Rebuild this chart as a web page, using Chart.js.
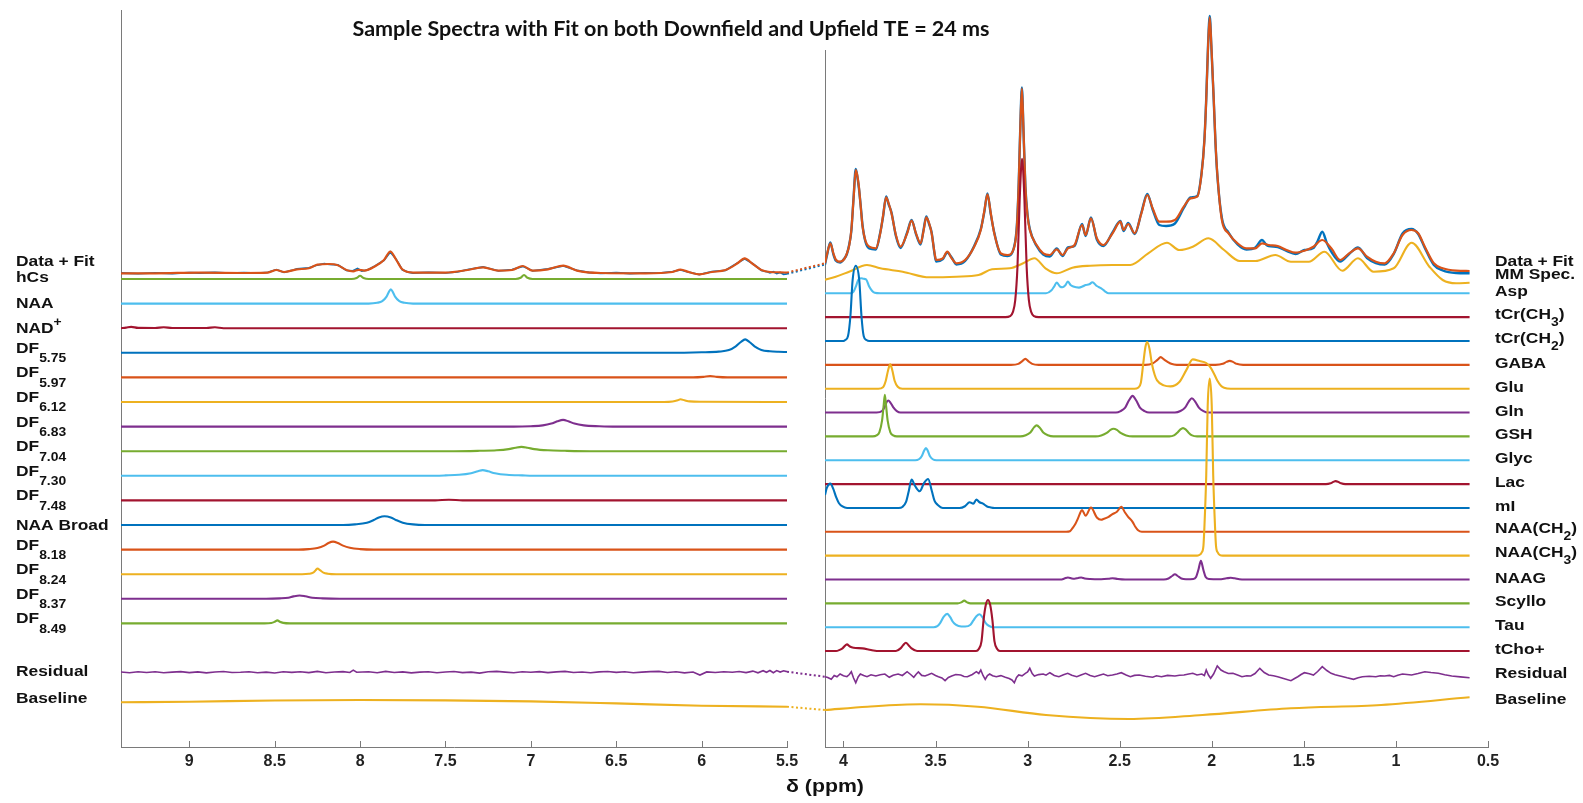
<!DOCTYPE html>
<html>
<head>
<meta charset="utf-8">
<title>Sample Spectra with Fit</title>
<script src="https://cdn.jsdelivr.net/npm/chart.js@4.4.1/dist/chart.umd.min.js"></script>
<style>
  html, body { margin: 0; padding: 0; background: #fff; }
  canvas { display: block; }
</style>
</head>
<body>
<canvas id="spectraChart" width="1583" height="803"></canvas>
<script>
// tick values of the two ppm windows
const downfieldTicks = [9, 8.5, 8, 7.5, 7, 6.5, 6, 5.5];
const upfieldTicks = [4, 3.5, 3, 2.5, 2, 1.5, 1, 0.5];

// names of the fitted components, top to bottom
const downfieldNames = ['hCs', 'NAA', 'NAD^{+}', 'DF_{5.75}', 'DF_{5.97}', 'DF_{6.12}', 'DF_{6.83}',
  'DF_{7.04}', 'DF_{7.30}', 'DF_{7.48}', 'NAA Broad', 'DF_{8.18}', 'DF_{8.24}', 'DF_{8.37}', 'DF_{8.49}'];
const upfieldNames = ['Asp', 'tCr(CH_{3})', 'tCr(CH_{2})', 'GABA', 'Glu', 'Gln', 'GSH', 'Glyc', 'Lac',
  'mI', 'NAA(CH_{2})', 'NAA(CH_{3})', 'NAAG', 'Scyllo', 'Tau', 'tCho+'];

// ---- downfield (9.4 - 5.5 ppm): [ppm, intensity] ----
const fitDown = [[9.40,0],[9.20,0],[8.94,0.7],[8.68,0.3],[8.54,0.7],[8.49,3.3],[8.445,1.3],[8.37,4],[8.30,5],
  [8.25,8.7],[8.18,9.3],[8.13,8],[8.08,3.3],[8.04,2],[8.01,3.5],[7.975,2.7],[7.91,7.3],[7.86,13.3],[7.823,21.7],
  [7.79,14],[7.753,4],[7.69,0.7],[7.50,0.7],[7.37,3.3],[7.28,6],[7.19,2.7],[7.11,3.3],[7.047,7.3],[6.99,2.7],
  [6.90,4],[6.81,7.7],[6.73,2.7],[6.59,0.3],[6.33,0],[6.17,1.3],[6.124,3.7],[6.07,1],[6.014,-1],[5.94,1.3],
  [5.86,3.3],[5.79,10],[5.748,15],[5.70,9.3],[5.65,3.3],[5.60,1.3],[5.54,1],[5.5,0.7]];
const dataDown = [[9.40,0.3],[9.30,-0.3],[9.20,0.5],[9.10,-0.2],[9.00,0.6],[8.94,0.3],[8.85,0.9],[8.76,0.2],
  [8.68,0.6],[8.60,0.1],[8.54,0.9],[8.49,3.6],[8.445,1.0],[8.40,2.8],[8.37,4.3],[8.30,5.5],[8.25,8.3],[8.21,9.6],
  [8.18,9.0],[8.13,8.4],[8.08,3.0],[8.045,2.3],[8.015,4.8],[7.99,2.2],[7.955,3.5],[7.91,7.6],[7.86,13.0],
  [7.823,21.3],[7.79,14.4],[7.753,3.6],[7.72,1.2],[7.69,0.3],[7.60,1.0],[7.50,0.4],[7.43,1.5],[7.37,3.6],
  [7.28,6.3],[7.19,2.4],[7.11,3.6],[7.047,7.0],[6.99,2.4],[6.90,4.3],[6.81,7.4],[6.73,2.9],[6.66,0.8],[6.59,0.0],
  [6.50,0.6],[6.42,-0.2],[6.33,0.4],[6.25,0.1],[6.17,1.6],[6.124,3.4],[6.07,0.8],[6.014,-1.3],[5.94,1.6],
  [5.86,3.0],[5.79,10.3],[5.748,14.6],[5.70,9.6],[5.65,3.0],[5.62,1.8],[5.60,0.4],[5.58,1.6],[5.56,-0.3],
  [5.54,0.9],[5.52,-1.0],[5.5,-0.5]];

const hCs = [[9.4,0],[8.05,0],[8.02,1],[8.0,3.3],[7.98,1],[7.95,0],[7.09,0],[7.06,1.2],[7.04,4],[7.02,1.2],[6.99,0],[5.5,0]];
const naaDown = [[9.4,0],[7.95,0],[7.9,0.8],[7.87,2.5],[7.845,7],[7.832,11.5],[7.82,14.3],[7.808,11.5],
  [7.795,7],[7.77,2.5],[7.74,0.8],[7.69,0],[5.5,0]];
const nad = [[9.4,0],[9.37,0.6],[9.34,1.3],[9.3,0.3],[9.2,0.2],[9.15,1],[9.1,0.2],[8.9,0.2],[8.85,0.9],[8.8,0],[5.5,0]];
const df575 = [[9.4,0],[6.2,0],[6.0,0.5],[5.9,1.2],[5.84,2.7],[5.80,6.5],[5.77,10.8],[5.745,13.4],[5.72,10.8],
  [5.69,6.5],[5.65,2.9],[5.60,1.5],[5.55,1],[5.5,0.8]];
const df597 = [[9.4,0],[6.05,0],[5.99,0.5],[5.95,1.3],[5.91,0.5],[5.85,0],[5.5,0]];
const df612 = [[9.4,0],[6.22,0],[6.17,0.5],[6.14,1.7],[6.124,2.7],[6.1,1.7],[6.07,0.6],[6.0,0.2],[5.5,0]];
const df683 = [[9.4,0],[7.1,0],[7.0,0.4],[6.93,1.2],[6.88,3],[6.845,5.3],[6.811,6.7],[6.78,5.3],[6.745,3],
  [6.69,1.2],[6.6,0.4],[6.5,0],[5.5,0]];
const df704 = [[9.4,0],[7.45,0],[7.3,0.4],[7.2,0.9],[7.13,2.1],[7.09,3.5],[7.055,4.3],[7.02,3.5],[6.98,2.1],
  [6.9,0.9],[6.8,0.4],[6.65,0],[5.5,0]];
const df730 = [[9.4,0],[7.6,0],[7.5,0.4],[7.42,1],[7.35,2.6],[7.31,4.5],[7.282,5.7],[7.25,4.5],[7.21,2.6],
  [7.14,1],[7.05,0.4],[6.95,0],[5.5,0]];
const df748 = [[9.4,0],[7.56,0],[7.48,0.7],[7.4,0],[5.5,0]];
const naaBroad = [[9.4,0],[8.1,0],[8.03,0.6],[7.96,2.3],[7.92,5],[7.89,7.5],[7.857,8.7],[7.82,7.5],[7.79,5],
  [7.75,2.3],[7.69,0.6],[7.62,0],[5.5,0]];
const df818 = [[9.4,0],[8.36,0],[8.3,0.5],[8.25,1.6],[8.21,4],[8.185,6.6],[8.158,8],[8.13,6.6],[8.1,4],
  [8.06,1.8],[8.0,0.5],[7.92,0],[5.5,0]];
const df824 = [[9.4,0],[8.34,0],[8.3,0.4],[8.275,1.5],[8.26,4],[8.249,5.7],[8.235,4],[8.215,1.6],[8.19,0.5],[8.14,0],[5.5,0]];
const df837 = [[9.4,0],[8.55,0],[8.47,0.4],[8.42,1.1],[8.39,2.4],[8.354,3.3],[8.32,2.5],[8.28,1.1],[8.22,0.4],[8.12,0],[5.5,0]];
const df849 = [[9.4,0],[8.56,0],[8.52,0.4],[8.5,1.6],[8.484,3],[8.47,1.6],[8.45,0.5],[8.41,0],[5.5,0]];

const residualDown = [[9.40,0.3],[9.35,-0.4],[9.30,0.5],[9.25,-0.2],[9.20,0.6],[9.15,-0.5],[9.10,0.2],[9.05,0.7],
  [9.00,-0.3],[8.95,0.4],[8.90,-0.6],[8.85,0.3],[8.80,0.8],[8.75,-0.2],[8.70,0.1],[8.65,0.6],[8.60,-0.4],
  [8.55,0.2],[8.50,-0.7],[8.45,0.5],[8.40,-0.1],[8.35,0.6],[8.30,-0.3],[8.25,0.9],[8.20,-0.5],[8.15,0.3],
  [8.10,0.7],[8.06,-0.2],[8.04,2.2],[8.02,0.1],[7.95,0.5],[7.90,-0.4],[7.85,0.9],[7.80,-0.2],[7.75,0.4],
  [7.70,-0.6],[7.65,0.2],[7.60,0.5],[7.55,-0.4],[7.50,0.3],[7.45,0.8],[7.40,-0.3],[7.35,0.2],[7.30,-0.8],
  [7.25,0.5],[7.20,0.9],[7.15,0.2],[7.10,-0.4],[7.05,0.6],[7.00,0.1],[6.95,0.7],[6.90,-0.3],[6.85,0.4],
  [6.80,0.9],[6.75,-0.2],[6.70,0.3],[6.65,-0.5],[6.60,0.4],[6.55,0.8],[6.50,-0.1],[6.45,0.5],[6.40,-0.4],
  [6.35,0.2],[6.30,0.7],[6.25,0.9],[6.20,-0.2],[6.15,0.5],[6.10,-0.6],[6.05,0.3],[6.01,-2.7],[5.97,0.4],
  [5.92,-0.2],[5.87,0.6],[5.82,0.1],[5.78,0.8],[5.74,-0.3],[5.70,1.2],[5.67,-0.5],[5.64,1.6],[5.62,0],
  [5.60,1.8],[5.58,-0.4],[5.56,1.7],[5.54,0.2],[5.52,1.5],[5.5,0.6]];
const baselineDown = [[9.4,44.7],[9.0,45.3],[8.5,46.5],[8.0,47],[7.5,46.6],[7.0,45.6],[6.5,43.6],[6.0,41.3],[5.5,40.3]];

// ---- upfield (4.1 - 0.6 ppm): [ppm, intensity] ----
const fitUp = [[4.1,7.7],[4.09,16],[4.071,27.7],[4.055,18],[4.042,11.7],[4.018,9.3],[3.995,12],[3.981,17.7],
  [3.968,26],[3.957,41],[3.945,72],[3.933,101],[3.925,96],[3.916,84.3],[3.905,62],[3.896,44.3],[3.88,30],
  [3.86,24.3],[3.824,22.7],[3.8,37.7],[3.785,55],[3.768,73.7],[3.755,68],[3.739,57.7],[3.715,36],[3.69,24.3],
  [3.654,37.7],[3.63,50.3],[3.606,37.7],[3.581,27.7],[3.565,40],[3.55,53.7],[3.535,48],[3.521,37.7],[3.505,18],
  [3.497,11],[3.46,12.7],[3.436,19.3],[3.412,12.7],[3.387,7.7],[3.339,11],[3.29,24.3],[3.254,41],[3.235,60],
  [3.218,76.7],[3.2,58],[3.181,37.7],[3.145,17.7],[3.109,16],[3.072,24.3],[3.058,45],[3.048,87.7],[3.04,140],
  [3.031,182.7],[3.022,140],[3.012,84.3],[3.0,55],[2.988,41],[2.951,26],[2.915,17.7],[2.879,16],[2.842,21.7],
  [2.81,16],[2.781,22.7],[2.745,26],[2.704,46],[2.685,36],[2.656,52.7],[2.624,32.7],[2.588,26],[2.539,37.7],
  [2.496,49.3],[2.479,41],[2.454,47],[2.418,37.7],[2.382,57.7],[2.35,76],[2.321,62.7],[2.285,49.3],[2.248,49.3],
  [2.2,51],[2.152,64.3],[2.115,72.7],[2.079,74.3],[2.055,97.7],[2.04,130],[2.03,171],[2.02,225],[2.011,253.7],
  [2.002,225],[1.989,171],[1.98,130],[1.97,97.7],[1.945,51],[1.909,37.7],[1.86,27.7],[1.812,22.7],[1.763,22.7],
  [1.727,27.7],[1.691,26],[1.642,25],[1.594,21],[1.545,18.3],[1.497,20.3],[1.448,24.3],[1.4,31],[1.351,22.7],
  [1.303,11],[1.254,17.7],[1.206,22.7],[1.157,14.3],[1.109,9.3],[1.061,7.7],[1.012,17.7],[0.964,36],[0.915,41],
  [0.879,37.7],[0.843,24.3],[0.794,7.7],[0.746,2.7],[0.673,0.3],[0.6,0]];
const dataUp = [[4.1,6.5],[4.09,15],[4.071,28.5],[4.055,17],[4.042,10.5],[4.018,8.5],[3.995,12.5],[3.981,17],
  [3.968,27],[3.957,40],[3.945,73],[3.933,102],[3.925,95],[3.916,83],[3.905,63],[3.896,45.5],[3.88,29],
  [3.86,22.5],[3.824,21.5],[3.8,38.5],[3.785,54],[3.768,74.5],[3.755,67],[3.739,58.5],[3.715,35],[3.69,23],
  [3.654,38.5],[3.63,51],[3.606,37],[3.581,26.5],[3.565,41],[3.55,54.5],[3.535,47],[3.521,38.5],[3.505,17],
  [3.497,9.5],[3.46,12],[3.436,18.5],[3.412,13.5],[3.387,6.5],[3.339,10],[3.29,25],[3.254,42],[3.235,59],
  [3.218,77.5],[3.2,57],[3.181,38.5],[3.145,16.5],[3.109,15],[3.072,25],[3.058,46],[3.048,88.5],[3.04,141],
  [3.031,183.5],[3.022,139],[3.012,85],[3.0,56],[2.988,42],[2.951,25],[2.915,16.5],[2.879,14.5],[2.842,22.5],
  [2.81,15],[2.781,23.5],[2.745,25],[2.704,47],[2.685,35],[2.656,53.5],[2.624,31.5],[2.588,25],[2.539,38.5],
  [2.496,50],[2.479,40],[2.454,48],[2.418,37],[2.382,58.5],[2.35,77],[2.321,61.5],[2.285,46],[2.248,45],
  [2.2,47.5],[2.152,63],[2.115,73.5],[2.079,75],[2.055,98.5],[2.04,131],[2.03,172],[2.02,226],[2.011,255],
  [2.002,224],[1.989,170],[1.98,129],[1.97,96.5],[1.945,53],[1.909,38.5],[1.86,26.5],[1.812,21.5],[1.763,23.5],
  [1.727,31],[1.705,26.5],[1.691,25],[1.642,24],[1.594,20],[1.545,17],[1.497,21],[1.448,23],[1.425,30],
  [1.4,39.3],[1.375,28],[1.351,19.3],[1.303,9.5],[1.254,17],[1.206,23.5],[1.157,13],[1.109,8],[1.061,6.5],
  [1.012,17],[0.964,37.5],[0.915,42],[0.879,37],[0.843,23],[0.794,6],[0.746,0.5],[0.673,-2],[0.6,-2.3]];
const mmSpec = [[4.107,3],[4.042,6.3],[3.969,11.3],[3.872,18],[3.8,14.7],[3.678,11.3],[3.533,5.7],[3.387,6.3],
  [3.266,8],[3.193,13.7],[3.097,14.7],[3.024,19.7],[2.963,24.7],[2.903,14.7],[2.842,9.7],[2.757,15.3],[2.66,17.3],
  [2.539,18],[2.442,18],[2.345,29.7],[2.243,40.3],[2.176,33],[2.103,36.3],[2.018,44.7],[1.933,33],[1.848,22],
  [1.763,22],[1.655,28],[1.57,21.3],[1.473,21.3],[1.388,31.3],[1.291,12.3],[1.206,24.7],[1.121,11.3],
  [1.012,14.7],[0.915,40.3],[0.818,16.3],[0.746,3],[0.673,-0.3],[0.6,0.3]];

const asp = [[4.1,0],[3.96,0],[3.945,1.7],[3.93,8],[3.92,13.3],[3.904,15],[3.89,14.5],[3.877,14],[3.86,6.7],
  [3.845,2.5],[3.83,0.5],[3.8,0],[2.9,0],[2.87,3],[2.855,7],[2.842,10.7],[2.825,7],[2.811,6],[2.795,8],
  [2.782,11.7],[2.765,8],[2.752,6.7],[2.721,5.7],[2.7,7],[2.685,8.3],[2.665,9],[2.648,11],[2.624,7.3],[2.6,5],
  [2.58,2],[2.56,0],[0.6,0]];
const tCrCH3 = [[4.1,0],[3.12,0],[3.095,1],[3.08,5],[3.067,17],[3.055,50],[3.043,117],[3.03,158.4],[3.017,117],
  [3.005,50],[2.993,17],[2.98,5],[2.965,1],[2.94,0],[0.6,0]];
const tCrCH2 = [[4.1,0],[4.0,0],[3.99,1],[3.975,5],[3.962,25],[3.95,61],[3.933,75.3],[3.914,61],[3.902,25],
  [3.89,5],[3.875,1],[3.86,0],[0.6,0]];
const gaba = [[4.1,0],[3.09,0],[3.05,1],[3.03,3.5],[3.012,6],[2.995,3.5],[2.975,1],[2.94,0],[2.36,0],[2.32,1.5],
  [2.295,5],[2.277,7.7],[2.26,5.5],[2.24,3],[2.22,1],[2.19,0],[1.98,0],[1.94,1],[1.92,3],[1.902,4],[1.885,3],
  [1.865,1],[1.83,0],[0.6,0]];
const glu = [[4.1,0],[3.81,0],[3.785,1.5],[3.77,8],[3.758,18],[3.746,24.3],[3.734,18],[3.722,8],[3.705,2],
  [3.68,0],[2.42,0],[2.4,1],[2.385,6],[2.372,25],[2.36,42],[2.35,46.7],[2.338,40],[2.325,25],[2.31,14],
  [2.297,8.3],[2.26,3.3],[2.224,2.3],[2.176,6.7],[2.139,18.3],[2.103,29.3],[2.066,27.7],[2.03,25.7],[2.006,21],
  [1.985,14],[1.97,8.3],[1.95,3],[1.933,1],[1.897,0],[0.6,0]];
const gln = [[4.1,0],[3.82,0],[3.79,1.5],[3.775,6],[3.765,10.5],[3.756,12],[3.745,10],[3.73,5.5],[3.71,1.5],
  [3.69,0],[2.52,0],[2.495,1.5],[2.47,5],[2.45,12],[2.43,16.7],[2.41,12],[2.39,5],[2.365,1.5],[2.34,0],[2.2,0],
  [2.17,1.5],[2.145,5],[2.125,11],[2.108,14.3],[2.09,11],[2.07,5],[2.045,1.5],[2.02,0],[0.6,0]];
const gsh = [[4.1,0],[3.84,0],[3.82,1],[3.805,4],[3.79,16],[3.782,30],[3.775,41.7],[3.768,30],[3.76,16],
  [3.745,4],[3.73,1],[3.71,0],[3.04,0],[3.01,1.2],[2.985,4],[2.965,9],[2.951,11],[2.935,9],[2.915,4],[2.89,1.2],
  [2.86,0],[2.63,0],[2.6,1],[2.57,3.5],[2.55,6.5],[2.534,7.7],[2.515,6.5],[2.495,3.5],[2.465,1],[2.43,0],
  [2.23,0],[2.205,1],[2.185,4],[2.17,7],[2.156,8.3],[2.142,7],[2.127,4],[2.107,1],[2.08,0],[0.6,0]];
const glyc = [[4.1,0],[3.61,0],[3.59,1],[3.575,4],[3.562,9.5],[3.552,12.3],[3.542,9.5],[3.53,4],[3.515,1],
  [3.495,0],[0.6,0]];
const lac = [[4.1,0],[1.38,0],[1.355,0.8],[1.34,2.2],[1.327,3],[1.313,2.2],[1.298,0.8],[1.275,0],[0.6,0]];
const mI = [[4.1,13],[4.09,20],[4.071,24.3],[4.055,19],[4.04,11],[4.025,5],[4.005,1.5],[3.98,0],[3.7,0],
  [3.68,1],[3.66,6],[3.645,17],[3.63,28.3],[3.61,21.7],[3.586,16.7],[3.562,25],[3.54,29],[3.52,17],[3.505,7],
  [3.489,3.3],[3.46,0],[3.37,0],[3.34,1.7],[3.315,5.7],[3.295,4.3],[3.278,8.3],[3.261,5.7],[3.242,4.3],
  [3.22,1.5],[3.2,0.5],[3.18,0],[0.6,0]];
const naaCH2 = [[4.1,0],[2.79,0],[2.77,0.5],[2.755,4],[2.74,8],[2.728,12.7],[2.704,21.7],[2.685,16],[2.656,24.3],
  [2.624,14.3],[2.6,12],[2.588,12.7],[2.56,15],[2.539,17.7],[2.515,20],[2.491,25],[2.471,19.3],[2.454,15],
  [2.43,10],[2.415,5],[2.4,1.5],[2.38,0],[0.6,0]];
const naaCH3 = [[4.1,0],[2.08,0],[2.07,0.5],[2.055,3],[2.045,10],[2.04,28],[2.03,80],[2.022,150],[2.011,177],
  [2.0,150],[1.992,80],[1.982,28],[1.977,10],[1.967,3],[1.955,0.5],[1.94,0],[0.6,0]];
const naag = [[4.1,0],[2.82,0],[2.8,1],[2.781,2],[2.76,1],[2.745,0.7],[2.725,1.5],[2.709,2],[2.69,1],[2.66,0.5],
  [2.6,0.3],[2.56,0.8],[2.539,1.3],[2.51,0.5],[2.47,0],[2.26,0],[2.235,1],[2.215,3.5],[2.2,5.3],[2.185,3.5],
  [2.165,1],[2.14,0.3],[2.1,0.5],[2.085,2.5],[2.072,10],[2.059,18.7],[2.046,10],[2.033,2.5],[2.015,0.5],
  [1.96,0.3],[1.92,1.2],[1.897,1.7],[1.875,1.2],[1.85,0.3],[1.82,0],[0.6,0]];
const scyllo = [[4.1,0],[3.38,0],[3.36,1],[3.344,2.7],[3.328,1],[3.31,0],[0.6,0]];
const tau = [[4.1,0],[3.51,0],[3.49,1],[3.475,4],[3.455,10.5],[3.436,13.3],[3.42,10],[3.407,5.7],[3.39,2.5],
  [3.375,1.3],[3.339,0.7],[3.31,2.5],[3.295,6.5],[3.278,11],[3.261,13],[3.245,10],[3.232,5.5],[3.218,2.3],
  [3.2,0.5],[3.185,0],[0.6,0]];
const tCho = [[4.1,0],[4.04,0],[4.02,1.2],[4.005,2.7],[3.981,6.7],[3.965,4.5],[3.945,3.3],[3.896,2.7],[3.85,1],
  [3.8,0],[3.715,0],[3.69,2.7],[3.675,6],[3.661,8.3],[3.645,5.5],[3.63,2.7],[3.6,0],[3.28,0],[3.265,2],[3.25,10],
  [3.239,31],[3.227,46],[3.215,51],[3.203,46],[3.191,31],[3.18,10],[3.165,2],[3.15,0],[0.6,0]];

const residualUp = [[4.10,-0.7],[4.085,-1.5],[4.066,-3.3],[4.05,0.5],[4.035,-0.8],[4.018,2],[4.0,0.3],[3.981,-0.7],
  [3.968,1.5],[3.957,4.3],[3.945,-2],[3.933,-6.7],[3.92,-1],[3.908,2],[3.89,0.5],[3.872,-0.7],[3.85,1.2],[3.824,0],
  [3.80,1.3],[3.775,2],[3.762,0.2],[3.751,-1.3],[3.73,0.8],[3.703,2],[3.68,0.5],[3.654,4.3],[3.635,1.5],
  [3.618,-1.3],[3.605,1.8],[3.593,4],[3.575,0.6],[3.557,0],[3.54,1.2],[3.521,2.7],[3.5,0.5],[3.484,-0.7],
  [3.465,-2],[3.448,-4.7],[3.43,-1.5],[3.412,0],[3.39,1.5],[3.363,1],[3.345,-0.5],[3.327,-0.7],[3.30,1.5],
  [3.278,4.3],[3.265,2.5],[3.254,6],[3.242,0.5],[3.23,-3.3],[3.218,0.5],[3.206,2],[3.19,0.3],[3.17,-0.7],
  [3.145,0.4],[3.121,-1.3],[3.10,-2.5],[3.085,-4],[3.072,-6.7],[3.06,-1.5],[3.048,1],[3.03,0.2],[3.012,2.7],
  [3.0,4],[2.988,7.7],[2.975,2.5],[2.963,0],[2.94,1.4],[2.915,2],[2.90,0.8],[2.879,3.3],[2.855,0.5],[2.83,-0.7],
  [2.805,1.2],[2.782,2.7],[2.76,0.8],[2.733,-0.7],[2.71,1],[2.685,2.7],[2.66,0.6],[2.636,-0.7],[2.61,0.8],
  [2.588,2],[2.565,0.3],[2.539,1],[2.515,2],[2.491,3.3],[2.465,1],[2.442,-0.7],[2.42,0.6],[2.394,1],[2.36,-0.2],
  [2.321,-1.3],[2.30,0.2],[2.273,-0.7],[2.24,0.6],[2.20,0],[2.175,0.8],[2.151,1],[2.125,2],[2.103,2.7],[2.08,1],
  [2.054,2],[2.04,0.5],[2.03,6],[2.018,1],[2.006,-2.3],[1.99,2],[1.97,10],[1.95,6],[1.933,4.3],[1.91,2.5],
  [1.885,2.7],[1.86,1],[1.836,-0.7],[1.81,0.3],[1.788,0],[1.765,2.5],[1.739,7.7],[1.715,3.5],[1.691,1],
  [1.665,0.2],[1.642,-0.7],[1.61,-2.5],[1.57,-4.7],[1.55,-2.5],[1.533,-0.7],[1.515,1.5],[1.497,3.3],[1.47,2.2],
  [1.448,1],[1.425,4.5],[1.40,9.3],[1.375,5.5],[1.352,2.7],[1.33,1.2],[1.303,0],[1.265,-1.8],[1.23,-3.3],
  [1.205,-1.8],[1.182,-0.7],[1.145,-0.3],[1.109,-0.7],[1.085,0.3],[1.061,0],[1.035,0.6],[1.012,-0.7],[0.99,0.8],
  [0.964,2],[0.94,1.5],[0.915,1],[0.88,2.5],[0.843,4.3],[0.81,3.5],[0.77,2.7],[0.735,1.2],[0.697,0],
  [0.65,-0.9],[0.6,-1.7]];
const baselineUp = [[4.1,37],[3.87,40.3],[3.58,42.7],[3.27,40.3],[2.9,32],[2.45,28],[2.05,32],[1.57,38.7],
  [1.08,42],[0.6,49.7]];

const downfieldFits = [hCs, naaDown, nad, df575, df597, df612, df683, df704, df730, df748,
  naaBroad, df818, df824, df837, df849];
const upfieldFits = [asp, tCrCH3, tCrCH2, gaba, glu, gln, gsh, glyc, lac, mI, naaCH2, naaCH3,
  naag, scyllo, tau, tCho];

// MATLAB colour order
const palette = ['#0072BD', '#D95319', '#EDB120', '#7E2F8E', '#77AC30', '#4DBEEE', '#A2142F'];

// vertical stacking of the traces (y units = pixels above the ppm axis)
const DOWN_DATA = 473.7, DOWN_TOP = 468, DOWN_STEP = 24.6, DOWN_RES = 74.7;
const UP_DATA = 476, UP_MM = 464, UP_TOP = 453.7, UP_STEP = 23.85, UP_RES = 71;

const datasets = [];

function addTrace(points, offset, color, axis, extra) {
  datasets.push(Object.assign({
    data: points.map(([x, v]) => ({ x: x, y: offset + v })),
    xAxisID: axis,
    yAxisID: 'y',
    borderColor: color,
    borderWidth: 2.1,
    pointRadius: 0,
    fill: false,
    cubicInterpolationMode: 'monotone'
  }, extra || {}));
}

const jagged = { tension: 0, cubicInterpolationMode: 'default', borderWidth: 1.6 };

// downfield window
addTrace(baselineDown, 0, palette[2], 'xL');
addTrace(residualDown, DOWN_RES, palette[3], 'xL', jagged);
addTrace(dataDown, DOWN_DATA, palette[0], 'xL', { tension: 0, cubicInterpolationMode: 'default', borderWidth: 1.8 });
addTrace(fitDown, DOWN_DATA, palette[1], 'xL', { borderWidth: 2.2 });
downfieldFits.forEach((pts, k) => {
  addTrace(pts, DOWN_TOP - k * DOWN_STEP, palette[(k + 4) % 7], 'xL');
});

// upfield window
addTrace(dataUp, UP_DATA, palette[0], 'xR', { borderWidth: 2.4 });
addTrace(fitUp, UP_DATA, palette[1], 'xR', { borderWidth: 2.2 });
addTrace(mmSpec, UP_MM, palette[2], 'xR');
upfieldFits.forEach((pts, k) => {
  addTrace(pts, UP_TOP - k * UP_STEP, palette[(k + 5) % 7], 'xR');
});
addTrace(residualUp, UP_RES, palette[3], 'xR', jagged);
addTrace(baselineUp, 0, palette[2], 'xR');

// dotted links across the gap between the two windows
function addLink(leftPts, leftOff, rightPts, rightOff, color) {
  datasets.push({
    data: [{ x: 0, y: leftOff + leftPts[leftPts.length - 1][1] }, { x: 1, y: rightOff + rightPts[0][1] }],
    xAxisID: 'xGap',
    yAxisID: 'y',
    borderColor: color,
    borderWidth: 2,
    borderDash: [2, 2.5],
    pointRadius: 0,
    tension: 0
  });
}
addLink(dataDown, DOWN_DATA, dataUp, UP_DATA, palette[0]);
addLink(fitDown, DOWN_DATA, fitUp, UP_DATA, palette[1]);
addLink(residualDown, DOWN_RES, residualUp, UP_RES, palette[3]);
addLink(baselineDown, 0, baselineUp, 0, palette[2]);

// later traces are drawn on top
datasets.forEach((d, i) => { d.order = -i; });

// text with _{sub} and ^{sup} parts, stretched a little horizontally
function drawRich(ctx, text, x, y, size, subDrop) {
  const parts = text.split(/([_^]\{[^}]*\})/).filter(Boolean);
  ctx.save();
  ctx.translate(x, y);
  ctx.scale(1.12, 1);
  let cx = 0;
  for (const p of parts) {
    let t = p, fs = size, dy = 0;
    if (p.startsWith('_{')) { t = p.slice(2, -1); fs = size * 0.8; dy = subDrop; }
    else if (p.startsWith('^{')) { t = p.slice(2, -1); fs = size * 0.8; dy = -size * 0.42; }
    ctx.font = 'bold ' + fs + 'px "Liberation Sans", Arial, sans-serif';
    ctx.fillText(t, cx, dy);
    cx += ctx.measureText(t).width;
  }
  ctx.restore();
}

const spectraDecor = {
  id: 'spectraDecor',
  beforeDatasetsDraw(chart) {
    const ctx = chart.ctx;
    const xL = chart.scales.xL, xR = chart.scales.xR, y = chart.scales.y;
    ctx.save();
    ctx.strokeStyle = '#7a7a7a';
    ctx.lineWidth = 1;
    // frame lines at the left edge of each window
    ctx.beginPath();
    ctx.moveTo(xL.left + 0.5, chart.chartArea.top);
    ctx.lineTo(xL.left + 0.5, xL.top);
    ctx.moveTo(xR.left + 0.5, y.getPixelForValue(697));
    ctx.lineTo(xR.left + 0.5, xR.top);
    // tick marks pointing inward
    [xL, xR].forEach((s) => {
      s.ticks.forEach((t) => {
        const px = Math.round(s.getPixelForValue(t.value)) + 0.5;
        ctx.moveTo(px, s.top);
        ctx.lineTo(px, s.top - 6);
      });
    });
    ctx.stroke();
    ctx.restore();
  },
  afterDraw(chart) {
    const ctx = chart.ctx;
    const xL = chart.scales.xL, xR = chart.scales.xR, y = chart.scales.y;
    ctx.save();
    ctx.fillStyle = '#111';

    // title
    ctx.font = 'bold 20px Lato, "Open Sans", sans-serif';
    ctx.textBaseline = 'middle';
    ctx.textAlign = 'center';
    const title = 'Sample Spectra with Fit on both Downfield and Upfield TE = 24 ms';
    const sx = 637 / ctx.measureText(title).width;
    ctx.save();
    ctx.translate(671, 30);
    ctx.scale(sx, 1);
    ctx.fillText(title, 0, 0);
    ctx.restore();

    // axis title
    ctx.save();
    ctx.translate(xR.left, 787);
    ctx.scale(1.12, 1);
    ctx.font = 'bold 19px "Liberation Sans", Arial, sans-serif';
    ctx.fillText('\u03b4 (ppm)', 0, 0);
    ctx.restore();

    ctx.textAlign = 'left';
    ctx.textBaseline = 'alphabetic';

    // downfield labels
    const lx = xL.left - 105;
    drawRich(ctx, 'Data + Fit', lx, y.getPixelForValue(DOWN_DATA) - 7.3, 15.5, 0);
    downfieldNames.forEach((name, k) => {
      const py = y.getPixelForValue(DOWN_TOP - k * DOWN_STEP);
      let shift = name.includes('_{') ? 0 : 4.5;
      if (k === 0) shift = 2.7;
      drawRich(ctx, name, lx, py + shift, 15.5, 9.4);
    });
    drawRich(ctx, 'Residual', lx, y.getPixelForValue(DOWN_RES) + 4, 15.5, 0);
    drawRich(ctx, 'Baseline', lx, y.getPixelForValue(baselineDown[0][1]) + 1, 15.5, 0);

    // upfield labels
    const rx = xR.right + 7;
    drawRich(ctx, 'Data + Fit', rx, y.getPixelForValue(UP_DATA) - 4.8, 15.5, 0);
    drawRich(ctx, 'MM Spec.', rx, y.getPixelForValue(UP_MM) - 4.5, 15.5, 0);
    upfieldNames.forEach((name, k) => {
      const py = y.getPixelForValue(UP_TOP - k * UP_STEP);
      const shift = name.includes('_{') ? 1.5 : 3;
      drawRich(ctx, name, rx, py + shift, 15.5, 7);
    });
    drawRich(ctx, 'Residual', rx, y.getPixelForValue(UP_RES) + 2, 15.5, 0);
    drawRich(ctx, 'Baseline', rx, y.getPixelForValue(baselineUp[baselineUp.length - 1][1]) + 7, 15.5, 0);
    ctx.restore();
  }
};

const axisHeight = (scale) => { scale.height = 56; };
const tickFont = { family: '"Liberation Sans", Arial, sans-serif', size: 16, weight: 'bold' };

function ppmAxis(ticks, min, max, weight) {
  return {
    type: 'linear',
    position: 'bottom',
    stack: 'ppm',
    stackWeight: weight,
    reverse: true,
    min: min,
    max: max,
    afterBuildTicks: (scale) => { scale.ticks = ticks.map((v) => ({ value: v })); },
    afterFit: axisHeight,
    grid: { display: true, drawOnChartArea: false, drawTicks: false, tickLength: 0 },
    border: { display: true, color: '#7a7a7a', width: 1 },
    ticks: {
      autoSkip: false,
      maxRotation: 0,
      padding: 5,
      color: '#222',
      font: tickFont,
      callback: (v) => String(v)
    }
  };
}

new Chart(document.getElementById('spectraChart'), {
  type: 'line',
  data: { datasets: datasets },
  options: {
    responsive: false,
    devicePixelRatio: 1,
    animation: false,
    events: [],
    layout: { padding: { left: 121, right: 95, top: 10, bottom: 0 } },
    plugins: { legend: { display: false }, tooltip: { enabled: false }, title: { display: false } },
    scales: {
      xL: ppmAxis(downfieldTicks, 5.5, 9.4, 666),
      xGap: {
        type: 'linear',
        position: 'bottom',
        stack: 'ppm',
        stackWeight: 38,
        min: 0,
        max: 1,
        afterFit: axisHeight,
        grid: { display: false, drawTicks: false },
        border: { display: false },
        ticks: { display: false }
      },
      xR: ppmAxis(upfieldTicks, 0.5, 4.1, 663),
      y: { type: 'linear', display: false, min: 0, max: 737 }
    }
  },
  plugins: [spectraDecor]
});
</script>
</body>
</html>
